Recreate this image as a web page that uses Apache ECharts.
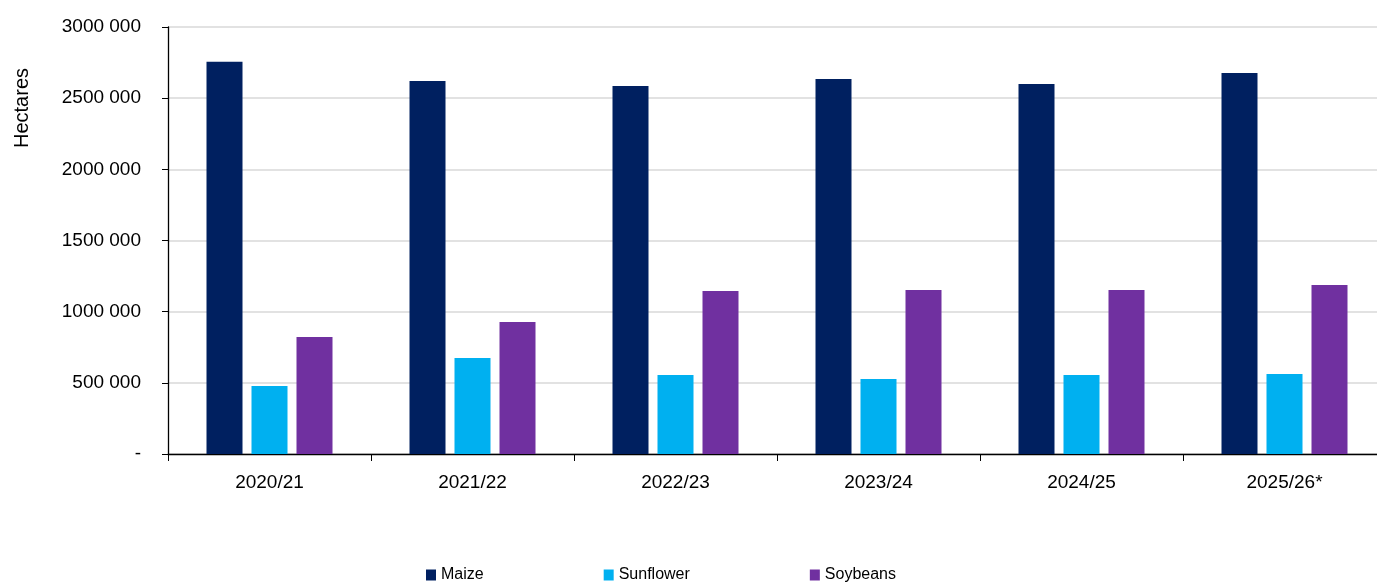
<!DOCTYPE html>
<html>
<head>
<meta charset="utf-8">
<script src="https://cdn.jsdelivr.net/npm/echarts@6/dist/echarts.min.js"></script>
<style>
  html, body { margin: 0; padding: 0; background: #fff; }
  #main { width: 1377px; height: 585px; }
</style>
</head>
<body>
<div id="main"></div>
<script>
var seasons = ['2020/21', '2021/22', '2022/23', '2023/24', '2024/25', '2025/26*'];
var maize = [2755000, 2620000, 2585000, 2635000, 2600000, 2677000];
var sunflower = [478000, 674000, 555000, 527000, 555000, 562000];
var soybeans = [822000, 927000, 1145000, 1152000, 1152000, 1187000];

var font = '"Liberation Sans", Arial, sans-serif';

function fmt(v) {
    if (v === 0) return '-';
    var k = Math.round(v / 1000);
    return k + ' 000';
}

var chart = echarts.init(document.getElementById('main'));
chart.setOption({
    animation: false,
    textStyle: { fontFamily: font },
    grid: { left: 168, top: 27, bottom: 131, width: 1218, outerBoundsMode: 'none' },
    legend: {
        bottom: -3,
        left: 421,
        itemWidth: 10,
        itemHeight: 11,
        itemGap: 120,
        icon: 'rect',
        textStyle: { fontSize: 16, color: '#000', fontFamily: font },
        data: ['Maize', 'Sunflower', 'Soybeans']
    },
    graphic: [{
        type: 'text',
        x: 22,
        y: 108,
        rotation: Math.PI / 2,
        style: {
            text: 'Hectares', fontSize: 20, fontFamily: font, fill: '#000',
            align: 'center', verticalAlign: 'middle'
        }
    }],
    xAxis: {
        type: 'category',
        data: seasons,
        axisLine: { lineStyle: { color: '#000', width: 1.3 } },
        axisTick: { show: true, length: 7, lineStyle: { color: '#000' } },
        axisLabel: { fontSize: 19, color: '#000', margin: 19, fontFamily: font }
    },
    yAxis: {
        type: 'value',
        min: 0,
        max: 3000000,
        interval: 500000,
        axisLine: { show: true, lineStyle: { color: '#000', width: 1.3 } },
        axisTick: { show: true, length: 6, lineStyle: { color: '#000' } },
        axisLabel: { fontSize: 19, color: '#000', margin: 27, formatter: fmt, fontFamily: font },
        splitLine: { lineStyle: { color: '#d9d9d9', width: 1.5 } }
    },
    series: [
        { name: 'Maize', type: 'bar', data: maize, barWidth: 36, barGap: '25%',
          itemStyle: { color: '#002060' } },
        { name: 'Sunflower', type: 'bar', data: sunflower, barWidth: 36, barGap: '25%',
          itemStyle: { color: '#00b0f0' } },
        { name: 'Soybeans', type: 'bar', data: soybeans, barWidth: 36, barGap: '25%',
          itemStyle: { color: '#7030a0' } }
    ]
});
</script>
</body>
</html>
